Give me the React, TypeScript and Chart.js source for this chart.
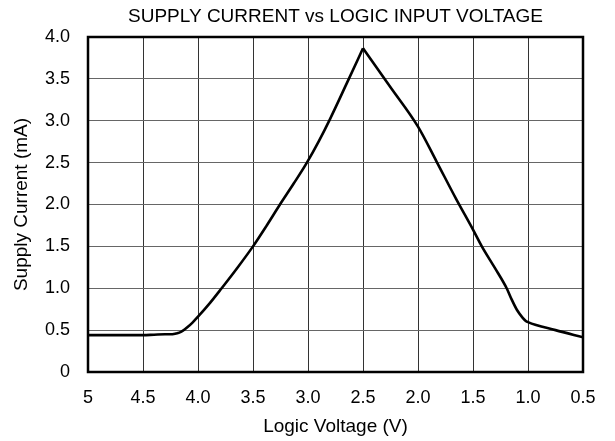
import React, { useEffect, useRef } from "react";
import { Chart, registerables } from "chart.js";

Chart.register(...registerables);

const chartTitle = "SUPPLY CURRENT vs LOGIC INPUT VOLTAGE";
const xTitle = "Logic Voltage (V)";
const yTitle = "Supply Current (mA)";

const logicVoltage = [
  5.0, 4.5, 4.4, 4.3, 4.25, 4.2, 4.17, 4.14, 4.1, 4.05, 4.0, 3.9, 3.785, 3.65, 3.5,
  3.375, 3.255, 3.13, 3.01, 2.9, 2.8, 2.65, 2.5, 2.25, 2.0, 1.83, 1.655, 1.5, 1.42,
  1.3, 1.194, 1.15, 1.1, 1.05, 1.02, 1.0, 0.75, 0.5,
];
const supplyCurrent = [
  0.44, 0.44, 0.445, 0.45, 0.45, 0.46, 0.47, 0.49, 0.53, 0.59, 0.66, 0.81, 1.0, 1.23,
  1.5, 1.75, 2.0, 2.25, 2.5, 2.76, 3.02, 3.44, 3.865, 3.4, 2.93, 2.51, 2.07, 1.7, 1.5,
  1.24, 1.0, 0.87, 0.74, 0.65, 0.61, 0.595, 0.5, 0.415,
];

const xTicks = [5, 4.5, 4.0, 3.5, 3.0, 2.5, 2.0, 1.5, 1.0, 0.5];
const yTicks = [0, 0.5, 1.0, 1.5, 2.0, 2.5, 3.0, 3.5, 4.0];

const FONT = "'Liberation Sans', Arial, sans-serif";

export default function App() {
  const ref = useRef<HTMLCanvasElement | null>(null);

  useEffect(() => {
    document.body.style.margin = "0";
    const canvas = ref.current;
    if (!canvas) return;

    const points = logicVoltage.map((v, i) => ({ x: v, y: supplyCurrent[i] }));
    let peak = 0;
    supplyCurrent.forEach((c, i) => {
      if (c > supplyCurrent[peak]) peak = i;
    });
    const rising = points.slice(0, peak + 1);
    const falling = points.slice(peak);

    const framePlugin = {
      id: "frameAndTitle",
      afterDraw(chart: any) {
        const { ctx, chartArea } = chart;
        ctx.save();
        ctx.strokeStyle = "#000";
        ctx.lineWidth = 2.5;
        ctx.strokeRect(
          chartArea.left,
          chartArea.top,
          chartArea.right - chartArea.left,
          chartArea.bottom - chartArea.top
        );
        ctx.fillStyle = "#000";
        ctx.font = `19px ${FONT}`;
        ctx.textAlign = "center";
        ctx.textBaseline = "middle";
        ctx.fillText(chartTitle, (chartArea.left + chartArea.right) / 2, 17);
        ctx.restore();
      },
    };

    const lineStyle = {
      borderColor: "#000",
      borderWidth: 2.6,
      pointRadius: 0,
      cubicInterpolationMode: "monotone" as const,
      fill: false,
    };

    const chart = new Chart(canvas, {
      type: "line",
      data: {
        datasets: [
          { data: rising, ...lineStyle },
          { data: falling, ...lineStyle },
        ],
      },
      options: {
        animation: false,
        responsive: false,
        layout: { padding: { left: 0, right: 32, top: 37, bottom: 0 } },
        plugins: {
          legend: { display: false },
          title: { display: false },
          tooltip: { enabled: false },
        },
        scales: {
          x: {
            type: "linear",
            reverse: true,
            min: 0.5,
            max: 5,
            afterFit(scale: any) {
              scale.height = 69;
            },
            afterBuildTicks(scale: any) {
              scale.ticks = xTicks.map((v) => ({ value: v }));
            },
            border: { display: false },
            grid: { color: "#333", lineWidth: 1, drawTicks: false },
            ticks: {
              padding: 15,
              color: "#000",
              font: { family: FONT, size: 18 },
              maxRotation: 0,
              autoSkip: false,
              callback: (v: any) => (v === 5 ? "5" : Number(v).toFixed(1)),
            },
            title: {
              display: true,
              text: xTitle,
              color: "#000",
              font: { family: FONT, size: 19 },
              padding: { top: 0, bottom: 3 },
            },
          },
          y: {
            type: "linear",
            min: 0,
            max: 4,
            afterFit(scale: any) {
              scale.width = 88;
            },
            afterBuildTicks(scale: any) {
              scale.ticks = yTicks.map((v) => ({ value: v }));
            },
            border: { display: false },
            grid: { color: "#666", lineWidth: 1, drawTicks: false },
            ticks: {
              padding: 18,
              color: "#000",
              font: { family: FONT, size: 18 },
              autoSkip: false,
              callback: (v: any) => (v === 0 ? "0" : Number(v).toFixed(1)),
            },
            title: {
              display: true,
              text: yTitle,
              color: "#000",
              font: { family: FONT, size: 19 },
              padding: { top: 10, bottom: 0 },
            },
          },
        },
      },
      plugins: [framePlugin],
    });

    return () => chart.destroy();
  }, []);

  return (
    <div style={{ width: 615, height: 441 }}>
      <canvas ref={ref} width={615} height={441} style={{ display: "block" }} />
    </div>
  );
}
